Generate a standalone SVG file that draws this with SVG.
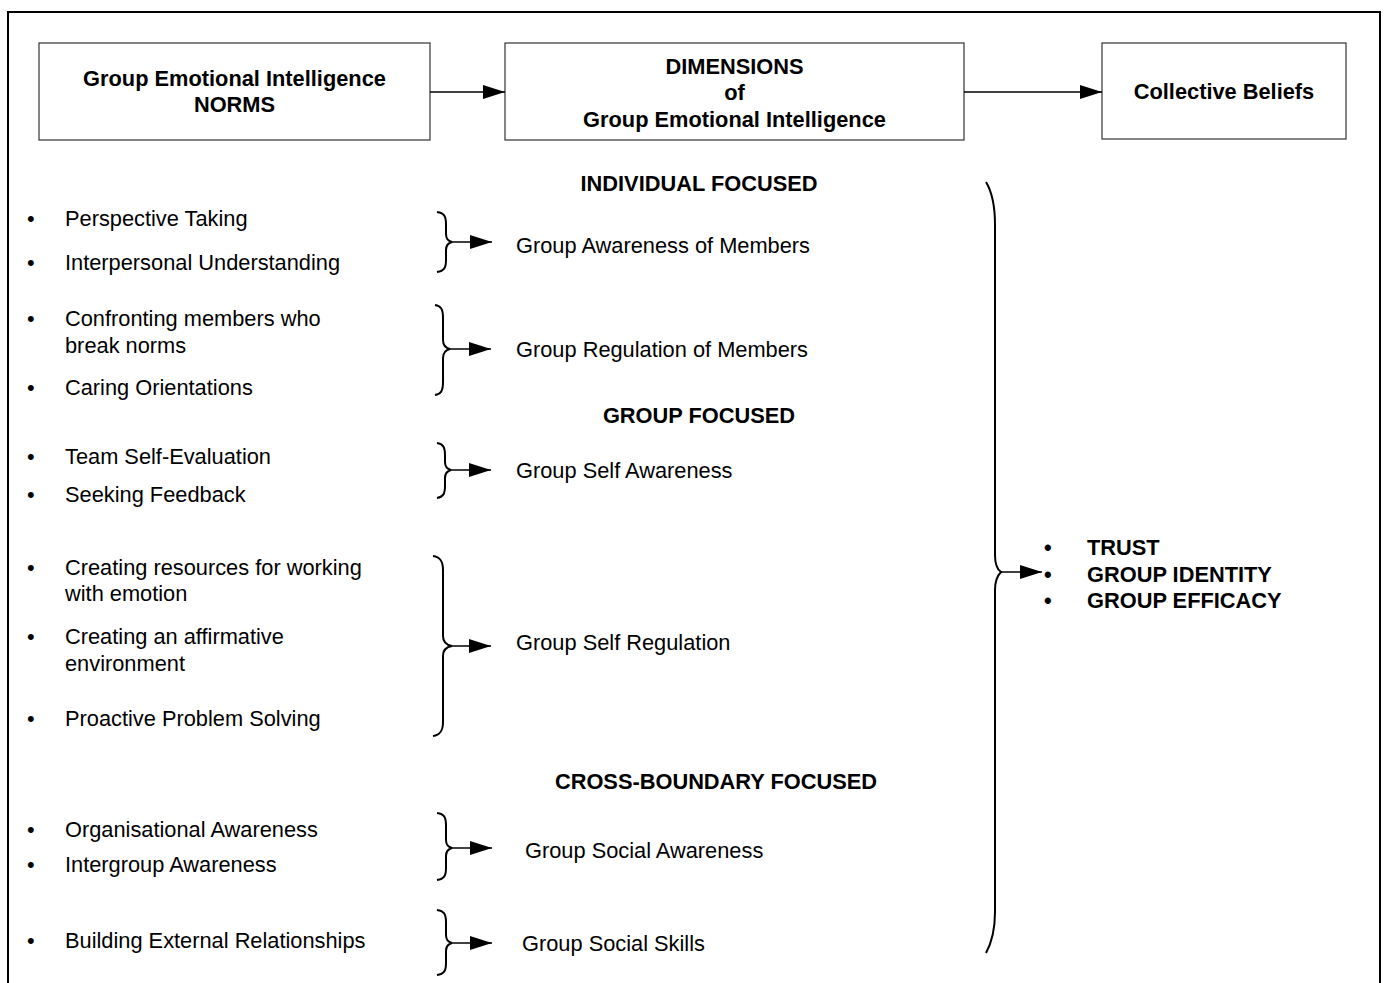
<svg xmlns="http://www.w3.org/2000/svg" width="1386" height="983" viewBox="0 0 1386 983">
<defs>
<style>
text{font-family:"Liberation Sans",Arial,sans-serif;font-size:21.8px;fill:#000}
.b{font-weight:bold}
.c{text-anchor:middle}
.box{fill:#fff;stroke:#333;stroke-width:1.2}
.frame{fill:none;stroke:#000;stroke-width:2}
.brace{fill:none;stroke:#000;stroke-width:2}
.conn{fill:none;stroke:#000;stroke-width:1.6}
</style>
<marker id="ah" markerUnits="userSpaceOnUse" markerWidth="23" markerHeight="16" refX="22" refY="7" orient="auto">
<path d="M0,0 L22,7 L0,14 Z" fill="#000"/>
</marker>
</defs>
<rect width="1386" height="983" fill="#fff"/>
<path class="frame" d="M8,983 L8,12 L1380,12 L1380,983"/>

<g id="node-norms">
<rect class="box" x="39" y="43" width="391" height="97"/>
<text class="b c" x="234.5" y="86">Group Emotional Intelligence</text>
<text class="b c" x="234.5" y="112">NORMS</text>
</g>
<g id="node-dimensions">
<rect class="box" x="505" y="43" width="459" height="97"/>
<text class="b c" x="734.5" y="74">DIMENSIONS</text>
<text class="b c" x="734.5" y="100">of</text>
<text class="b c" x="734.5" y="127">Group Emotional Intelligence</text>
</g>
<g id="node-beliefs">
<rect class="box" x="1102" y="43" width="244" height="96"/>
<text class="b c" x="1224" y="99">Collective Beliefs</text>
</g>

<g id="headings">
<text class="b c" x="699" y="191">INDIVIDUAL FOCUSED</text>
<text class="b c" x="699" y="423">GROUP FOCUSED</text>
<text class="b c" x="716" y="789">CROSS-BOUNDARY FOCUSED</text>
</g>

<g id="norms-awareness">
<text x="27" y="226">•</text><text x="65" y="226">Perspective Taking</text>
<text x="27" y="270">•</text><text x="65" y="270">Interpersonal Understanding</text>
</g>
<g id="norms-regulation">
<text x="27" y="326">•</text><text x="65" y="326">Confronting members who</text>
<text x="65" y="353">break norms</text>
<text x="27" y="395">•</text><text x="65" y="395">Caring Orientations</text>
</g>
<g id="norms-self-awareness">
<text x="27" y="464">•</text><text x="65" y="464">Team Self-Evaluation</text>
<text x="27" y="502">•</text><text x="65" y="502">Seeking Feedback</text>
</g>
<g id="norms-self-regulation">
<text x="27" y="575">•</text><text x="65" y="575">Creating resources for working</text>
<text x="65" y="601">with emotion</text>
<text x="27" y="644">•</text><text x="65" y="644">Creating an affirmative</text>
<text x="65" y="671">environment</text>
<text x="27" y="726">•</text><text x="65" y="726">Proactive Problem Solving</text>
</g>
<g id="norms-social-awareness">
<text x="27" y="837">•</text><text x="65" y="837">Organisational Awareness</text>
<text x="27" y="872">•</text><text x="65" y="872">Intergroup Awareness</text>
</g>
<g id="norms-social-skills">
<text x="27" y="948">•</text><text x="65" y="948">Building External Relationships</text>
</g>

<g id="dim-awareness-members"><text x="516" y="253">Group Awareness of Members</text></g>
<g id="dim-regulation-members"><text x="516" y="357">Group Regulation of Members</text></g>
<g id="dim-self-awareness"><text x="516" y="478">Group Self Awareness</text></g>
<g id="dim-self-regulation"><text x="516" y="650">Group Self Regulation</text></g>
<g id="dim-social-awareness"><text x="525" y="858">Group Social Awareness</text></g>
<g id="dim-social-skills"><text x="522" y="951">Group Social Skills</text></g>

<g id="outcomes">
<text class="b" x="1044" y="555">•</text><text class="b" x="1087" y="555">TRUST</text>
<text class="b" x="1044" y="582">•</text><text class="b" x="1087" y="582">GROUP IDENTITY</text>
<text class="b" x="1044" y="608">•</text><text class="b" x="1087" y="608">GROUP EFFICACY</text>
</g>

<g id="connectors">
<line class="conn" x1="430" y1="92" x2="505" y2="92" marker-end="url(#ah)"/>
<line class="conn" x1="964" y1="92" x2="1102" y2="92" marker-end="url(#ah)"/>

<path class="brace" d="M437,212 C444,213 446,216 446,224 L446,234 C446,239 448,241 452,242 C448,243 446,245 446,250 L446,260 C446,268 444,271 437,272"/>
<line class="conn" x1="452" y1="242" x2="492" y2="242" marker-end="url(#ah)"/>

<path class="brace" d="M435,305 C441,306 443,309 443,318 L443,340 C443,345 446,348 450,349 C446,350 443,353 443,358 L443,382 C443,391 441,394 435,395"/>
<line class="conn" x1="450" y1="349" x2="491" y2="349" marker-end="url(#ah)"/>

<path class="brace" d="M437,443 C443,444 445,447 445,455 L445,462 C445,467 447,469 451,470 C447,471 445,473 445,478 L445,486 C445,494 443,497 437,498"/>
<line class="conn" x1="451" y1="470" x2="491" y2="470" marker-end="url(#ah)"/>

<path class="brace" d="M433,556 C440,557 443,561 443,570 L443,636 C443,642 446,645 452,646 C446,647 443,650 443,656 L443,722 C443,731 440,735 433,736"/>
<line class="conn" x1="452" y1="646" x2="491" y2="646" marker-end="url(#ah)"/>

<path class="brace" d="M437,813 C444,814 446,817 446,825 L446,840 C446,845 448,847 452,848 C448,849 446,851 446,856 L446,868 C446,876 444,879 437,880"/>
<line class="conn" x1="452" y1="848" x2="492" y2="848" marker-end="url(#ah)"/>

<path class="brace" d="M437,910 C444,911 446,914 446,922 L446,935 C446,940 448,942 452,943 C448,944 446,946 446,951 L446,963 C446,971 444,974 437,975"/>
<line class="conn" x1="452" y1="943" x2="492" y2="943" marker-end="url(#ah)"/>

<path class="brace" d="M986,182 C992,192 995,205 995,225 L995,555 C995,565 998,570 1001,572 C998,575 995,580 995,590 L995,912 C995,930 992,942 986,953"/>
<line class="conn" x1="1001" y1="572" x2="1042" y2="572" marker-end="url(#ah)"/>
</g>
</svg>
